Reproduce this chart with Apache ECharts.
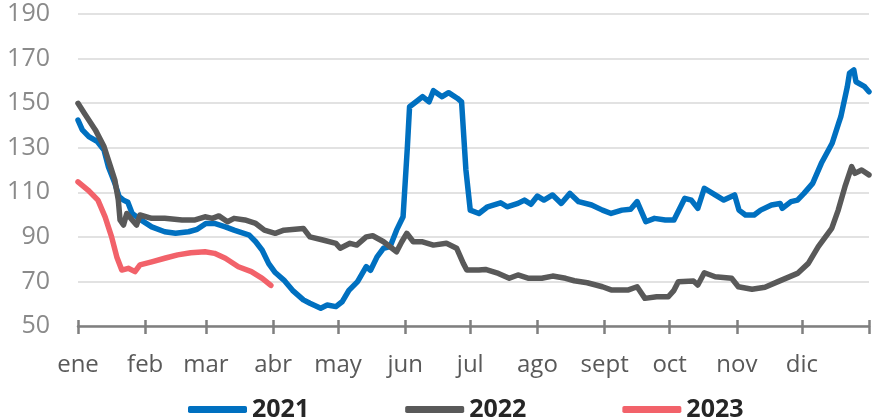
<!DOCTYPE html>
<html>
<head>
<meta charset="utf-8">
<script src="https://cdn.jsdelivr.net/npm/echarts@6/dist/echarts.min.js"></script>
<style>
  html, body { margin: 0; padding: 0; background: #fff; }
  #chart { width: 875px; height: 419px; }
</style>
</head>
<body>
<div id="chart"></div>
<script>
// Month labels and the day-of-year where each month starts
const monthNames = ['ene', 'feb', 'mar', 'abr', 'may', 'jun', 'jul', 'ago', 'sept', 'oct', 'nov', 'dic'];
const monthStarts = [0, 31, 59, 90, 120, 151, 181, 212, 243, 273, 304, 334];
const yearEnd = 365;

// Series: [day of year, value]
const s2021 = [
  [0,142.4],[2,138],[5,135],[9,132.7],[12,129],[14,121.5],[17,114],[19,108],[21,106.5],[23,105.5],
  [25,100.5],[29,97.6],[34,94.5],[40,92.3],[45,91.6],[51,92.3],[55,93.4],[59,96],[63,96],[68,94.5],
  [72,93],[79,90.8],[82,87.8],[85,84],[88,78],[91,74],[95,70.6],[99,66],[104,61.7],[107,60.2],
  [112,58],[115,59.4],[119,58.7],[122,61],[125,66],[129,69.9],[133,76.6],[135,75],[138,81],[141,84.9],
  [144,85.6],[147,93],[150,99],[152,130.5],[153,148.4],[156,150.6],[159,152.9],[162,150.6],[164,155.6],[168,152.9],
  [171,154.7],[175,152.2],[177,150.6],[179,120],[181,102],[185,100.5],[189,103.5],[195,105.3],[198,103.5],[203,105],
  [206,106.5],[209,104.6],[212,108.3],[215,106.5],[219,108.8],[223,105],[227,109.5],[231,105.8],[237,104.3],[242,102],
  [246,100.5],[251,102],[255,102.4],[258,105.8],[262,96.8],[266,98.3],[271,97.6],[275,97.6],[280,107.3],[283,106.5],
  [286,102.8],[289,111.8],[294,108.8],[298,106.5],[303,108.8],[305,102],[308,99.8],[312,99.8],[315,102],[320,104.3],
  [324,105],[325,102.8],[329,105.8],[332,106.5],[335,109.5],[339,114],[343,123],[348,132],[351,141],[352,143.9],
  [355,157.4],[356,163.4],[358,164.9],[359,159.6],[363,157.4],[365,155.1]
];
const s2022 = [
  [0,149.9],[3,145.4],[8,138],[12,130.5],[15,121.5],[17,115.5],[18.6,106.5],[19.4,97.6],[21,95.3],[22.5,100.5],
  [25,97.6],[27,95.3],[28.6,99.8],[34,98.3],[40,98.3],[48,97.6],[54,97.6],[58.6,99],[62,98.3],[65,99.4],
  [69,96.8],[72,98.3],[77,97.6],[82,96],[86,93],[91,91.6],[95,93],[104,93.8],[107,90],[113,88.6],
  [119,87.1],[121,84.9],[125.5,87.1],[128.6,86.3],[133,90],[136,90.5],[141,87.8],[147,83.3],[149.4,87.8],[151.7,91.6],
  [154.7,87.8],[159,87.8],[164,86.3],[170,87.1],[174.7,84.9],[177.8,78.1],[179.4,75.1],[185,75.1],[188,75.4],[194,73.6],
  [199,71.4],[203,72.9],[208,71.4],[214,71.4],[219,72.4],[225,71.4],[229,70.3],[235,69.4],[242,67.6],[246,66.2],
  [254,66.2],[258,67.6],[261.6,62.4],[267,63.1],[272.4,63.1],[275,66],[277,69.9],[284,70.2],[286,68.4],[289,73.9],
  [294,72.1],[301.6,71.4],[304.7,67.6],[311,66.5],[317,67.4],[323,69.9],[332,73.6],[337,78.1],[341.6,85.6],[347.8,93.8],
  [350.8,102],[353.9,112.5],[357,121.5],[358.5,118.5],[361.6,120],[365,117.8]
];
const s2023 = [
  [0,114.7],[4.6,111],[9.2,106.5],[12.5,99],[15.5,90],[17.9,81],[20.2,75.1],[23.2,75.9],[26.3,74.4],[28.6,77.4],
  [34,78.8],[40,80.4],[46,81.9],[52,82.9],[58.6,83.3],[63,82.6],[68,80.4],[74,76.6],[80,74.4],[85,71.4],[89,68.2]
];

const seriesNames = ['2021', '2022', '2023'];
const seriesColors = ['#0070c0', '#595959', '#f2626a'];
const seriesData = [s2021, s2022, s2023];

const chart = echarts.init(document.getElementById('chart'), null, { renderer: 'canvas' });
const tickDays = monthStarts.concat([yearEnd]);
const labelFor = {};
monthStarts.forEach((d, i) => { labelFor[d] = monthNames[i]; });

chart.setOption({
  animation: false,
  grid: { left: 78, right: 6, top: 14, bottom: 93, containLabel: false },
  legend: {
    data: seriesNames,
    left: 183,
    top: 392,
    itemWidth: 59,
    itemHeight: 7,
    itemGap: 96,
    icon: 'roundRect',
    textStyle: { fontFamily: 'Open Sans', fontSize: 25, fontWeight: 'bold', color: '#262626' }
  },
  xAxis: [
    {
      type: 'value', min: 0, max: yearEnd,
      axisLine: { show: true, lineStyle: { color: '#7f7f7f', width: 2.5 } },
      axisTick: { show: true, inside: false, length: 8, customValues: tickDays, lineStyle: { color: '#7f7f7f', width: 2.5 } },
      axisLabel: {
        show: true, customValues: monthStarts, margin: 27,
        formatter: v => labelFor[v] || '',
        fontFamily: 'Open Sans', fontSize: 24, color: '#595959'
      },
      splitLine: { show: false }
    },
    {
      type: 'value', min: 0, max: yearEnd, position: 'bottom',
      axisLine: { show: false },
      axisTick: { show: true, inside: true, length: 6, customValues: tickDays, lineStyle: { color: '#7f7f7f', width: 2.5 } },
      axisLabel: { show: false },
      splitLine: { show: false }
    }
  ],
  yAxis: {
    type: 'value', min: 50, max: 190, interval: 20,
    axisLine: { show: false }, axisTick: { show: false },
    axisLabel: { margin: 28, fontFamily: 'Open Sans', fontSize: 25, color: '#8a8a8a' },
    splitLine: { show: true, lineStyle: { color: '#d9d9d9', width: 1.5 } }
  },
  series: seriesNames.map((name, i) => ({
    name: name,
    type: 'line',
    data: seriesData[i],
    showSymbol: false,
    symbol: 'none',
    color: seriesColors[i],
    lineStyle: { width: 5.5, color: seriesColors[i], join: 'round', cap: 'round' }
  }))
});
</script>
</body>
</html>
